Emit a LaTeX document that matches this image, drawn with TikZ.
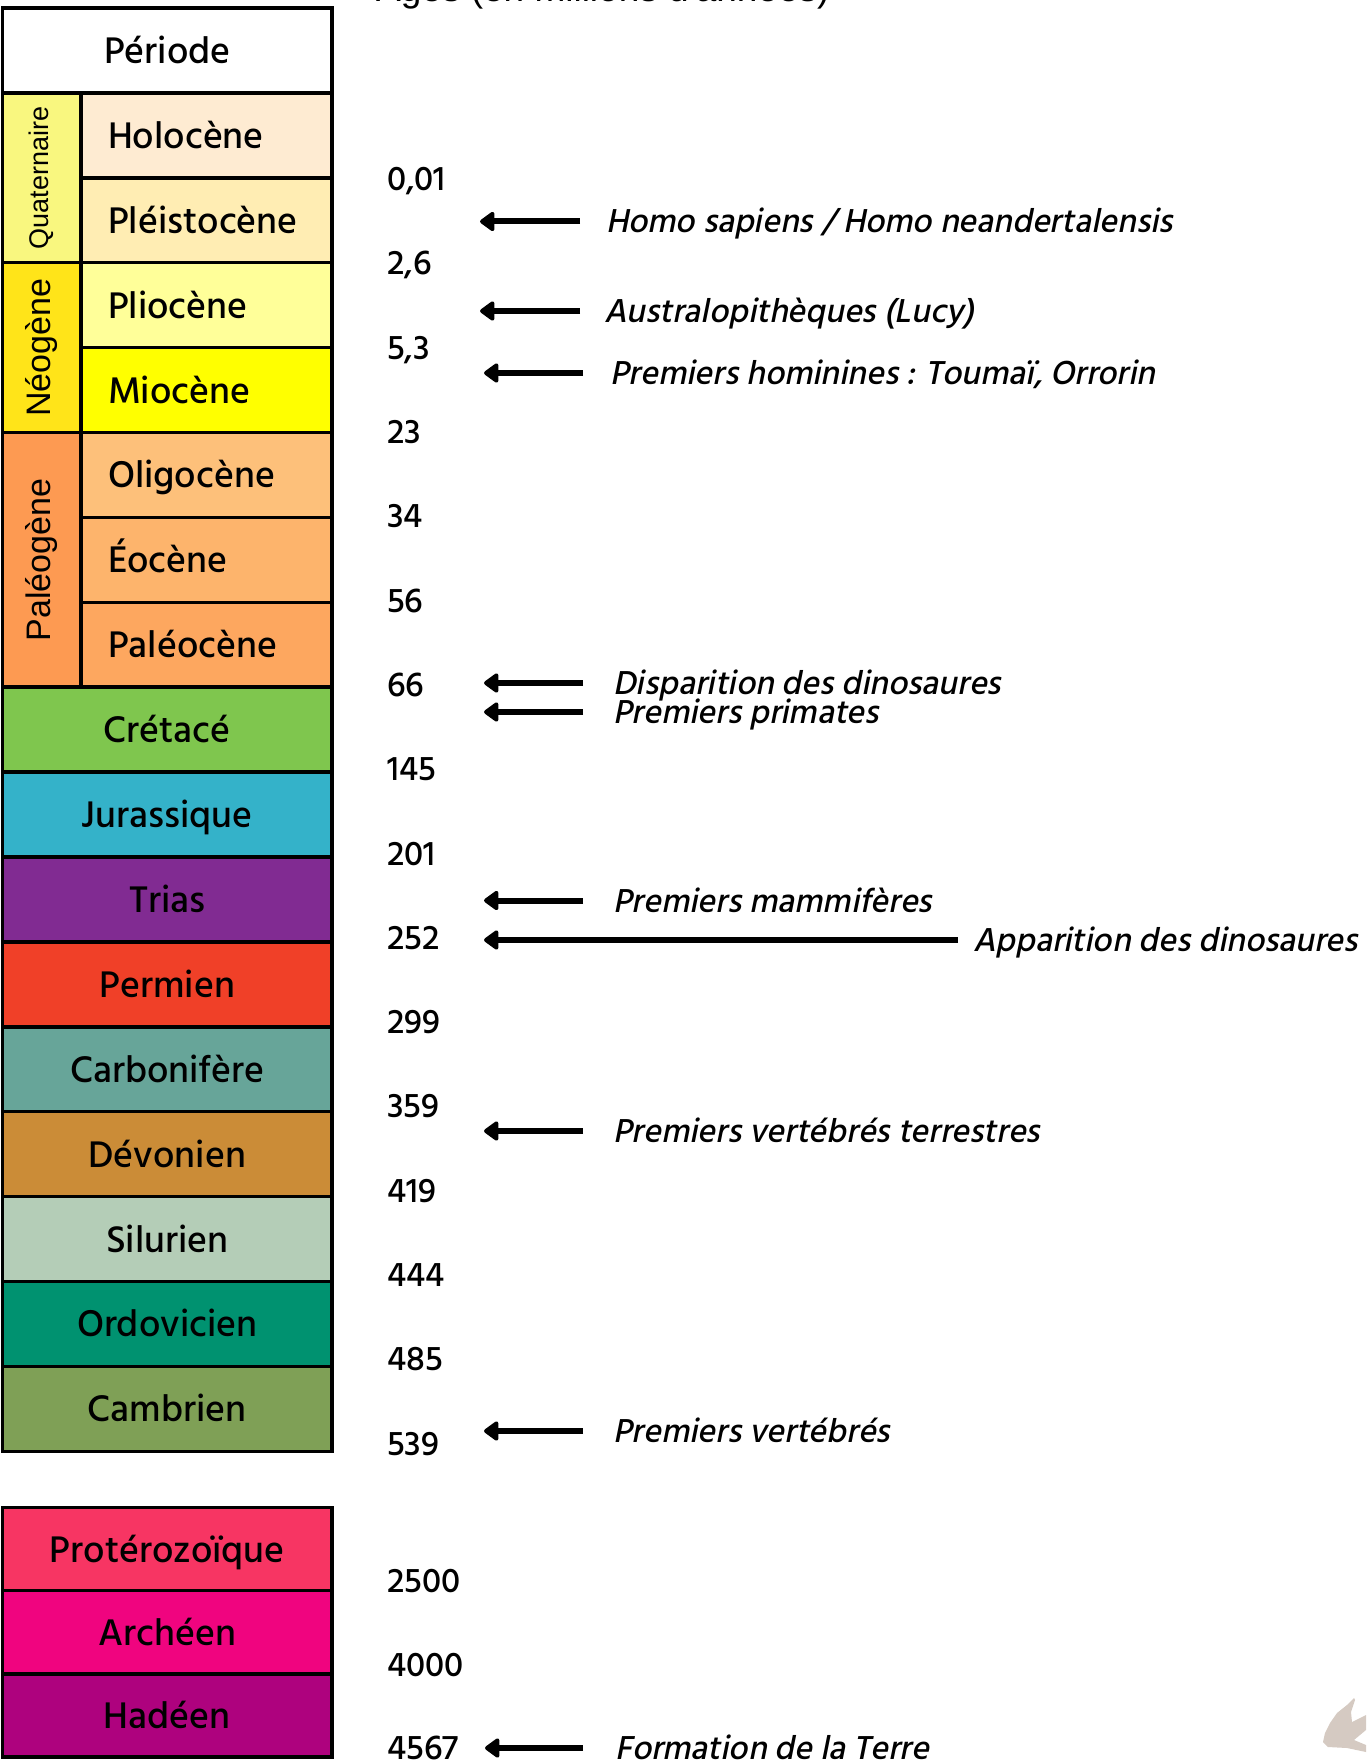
\documentclass[tikz,border=0pt]{standalone}
\usepackage{fontspec}
\setmainfont{Hind Siliguri}[UprightFont=* Medium,AutoFakeSlant=0.2]
\newfontfamily\arialfont{Liberation Sans}
\usetikzlibrary{arrows.meta}
\definecolor{cQuat}{RGB}{249,247,127}
\definecolor{cHolo}{RGB}{254,235,210}
\definecolor{cPleis}{RGB}{255,237,179}
\definecolor{cNeo}{RGB}{255,228,25}
\definecolor{cPlio}{RGB}{255,255,153}
\definecolor{cMio}{RGB}{255,255,0}
\definecolor{cPaleo}{RGB}{253,154,82}
\definecolor{cOligo}{RGB}{253,192,122}
\definecolor{cEo}{RGB}{253,180,108}
\definecolor{cPaleoc}{RGB}{253,167,95}
\definecolor{cCret}{RGB}{127,198,78}
\definecolor{cJur}{RGB}{52,178,201}
\definecolor{cTri}{RGB}{129,43,146}
\definecolor{cPerm}{RGB}{240,64,40}
\definecolor{cCarb}{RGB}{103,165,153}
\definecolor{cDev}{RGB}{203,140,55}
\definecolor{cSil}{RGB}{180,205,183}
\definecolor{cOrd}{RGB}{0,146,112}
\definecolor{cCam}{RGB}{127,160,86}
\definecolor{cProt}{RGB}{247,53,99}
\definecolor{cArch}{RGB}{240,4,127}
\definecolor{cHad}{RGB}{174,2,126}
\definecolor{cFoot}{RGB}{213,202,194}
\begin{document}
\begin{tikzpicture}[x=1pt,y=-1pt,
  box/.style={draw=black,line width=3.5pt,minimum height=84.9pt,inner sep=0pt,text height=26pt,text depth=0pt,font=\fontsize{38}{41}\selectfont},
  full/.style={box,minimum width=329.5pt},
  sub/.style={box,minimum width=251pt,text width=197pt,inner xsep=27pt,align=left},
  grp/.style={draw=black,line width=3.5pt,minimum width=78.5pt,inner sep=0pt,rotate=90},
  age/.style={anchor=west,inner sep=0pt,text height=22pt,text depth=0pt,font=\fontsize{35}{38}\selectfont},
  evt/.style={anchor=west,inner sep=0pt,text height=23pt,text depth=0pt,font=\fontsize{34}{37}\selectfont\itshape},
  evarrow/.style={line width=6pt,-{Triangle[width=22pt,length=16pt,round]}}]
\useasboundingbox (0,0) rectangle (1366,1760);

\node[anchor=base west,inner sep=0pt,font=\arialfont\fontsize{37}{40}\selectfont] (titre) at (376,1.5) {Âges (en millions d'années)};

\node[full,fill=white] (per) at (167.25,50.45) {Période};
\node[sub,fill=cHolo] (holo) at (206.5,135.35) {Holocène};
\node[sub,fill=cPleis] (pleis) at (206.5,220.25) {Pléistocène};
\node[sub,fill=cPlio] (plio) at (206.5,305.15) {Pliocène};
\node[sub,fill=cMio] (mio) at (206.5,390.05) {Miocène};
\node[sub,fill=cOligo] (oligo) at (206.5,474.95) {Oligocène};
\node[sub,fill=cEo] (eo) at (206.5,559.85) {Éocène};
\node[sub,fill=cPaleoc] (paleoc) at (206.5,644.75) {Paléocène};
\node[full,fill=cCret] (cret) at (167.25,729.65) {Crétacé};
\node[full,fill=cJur] (jur) at (167.25,814.55) {Jurassique};
\node[full,fill=cTri] (tri) at (167.25,899.45) {Trias};
\node[full,fill=cPerm] (perm) at (167.25,984.35) {Permien};
\node[full,fill=cCarb] (carb) at (167.25,1069.25) {Carbonifère};
\node[full,fill=cDev] (dev) at (167.25,1154.15) {Dévonien};
\node[full,fill=cSil] (sil) at (167.25,1239.05) {Silurien};
\node[full,fill=cOrd] (ord) at (167.25,1323.95) {Ordovicien};
\node[full,fill=cCam] (cam) at (167.25,1408.85) {Cambrien};

\node[grp,fill=cQuat,minimum height=78.5pt,minimum width=169.8pt,font=\arialfont\fontsize{27}{29}\selectfont] (quat) at (41.75,177.8) {Quaternaire};
\node[grp,fill=cNeo,minimum height=78.5pt,minimum width=169.8pt,font=\arialfont\fontsize{34}{36}\selectfont] (neo) at (41.75,347.6) {Néogène};
\node[grp,fill=cPaleo,minimum height=78.5pt,minimum width=254.7pt,font=\arialfont\fontsize{34}{36}\selectfont] (paleo) at (41.75,559.85) {Paléogène};

\node[full,minimum height=83.2pt,fill=cProt] (prot) at (167.25,1549.1) {Protérozoïque};
\node[full,minimum height=83.2pt,fill=cArch] (arch) at (167.25,1632.3) {Archéen};
\node[full,minimum height=83.2pt,fill=cHad] (had) at (167.25,1715.5) {Hadéen};

\node[age] (a1) at (387,179.6) {0,01};
\node[age] (a2) at (387,263.9) {2,6};
\node[age] (a3) at (387,348.2) {5,3};
\node[age] (a4) at (387,432.5) {23};
\node[age] (a5) at (387,516.8) {34};
\node[age] (a6) at (387,601.1) {56};
\node[age] (a7) at (387,685.4) {66};
\node[age] (a8) at (387,769.7) {145};
\node[age] (a9) at (387,854.0) {201};
\node[age] (a10) at (387,938.3) {252};
\node[age] (a11) at (387,1022.6) {299};
\node[age] (a12) at (387,1106.9) {359};
\node[age] (a13) at (387,1191.2) {419};
\node[age] (a14) at (387,1275.5) {444};
\node[age] (a15) at (387,1359.8) {485};
\node[age] (a16) at (387,1444.1) {539};
\node[age] (a17) at (387,1581.5) {2500};
\node[age] (a18) at (387,1665.6) {4000};
\node[age] (a19) at (387,1748.7) {4567};

\node[evt] (e1) at (606,221.5) {Homo sapiens / Homo neandertalensis};
\node[evt] (e2) at (604,311) {Australopithèques (Lucy)};
\node[evt] (e3) at (610,373) {Premiers hominines : Toumaï, Orrorin};
\node[evt] (e4) at (613,683) {Disparition des dinosaures};
\node[evt] (e5) at (613,712) {Premiers primates};
\node[evt] (e6) at (613,900.5) {Premiers mammifères};
\node[evt] (e7) at (973,940) {Apparition des dinosaures};
\node[evt] (e8) at (613,1131) {Premiers vertébrés terrestres};
\node[evt] (e9) at (613,1431) {Premiers vertébrés};
\node[evt] (e10) at (615,1748) {Formation de la Terre};

\coordinate (p1) at (480,221.5);
\coordinate (p2) at (480,311);
\coordinate (p3) at (484,373);
\coordinate (p4) at (484,683);
\coordinate (p5) at (484,712);
\coordinate (p6) at (484,900.5);
\coordinate (p7) at (484,940);
\coordinate (p8) at (484,1131);
\coordinate (p9) at (484,1431);
\coordinate (p10) at (485,1748);

\draw[evarrow] (e1.west) ++(-26,0) -- (p1);
\draw[evarrow] (e2.west) ++(-24,0) -- (p2);
\draw[evarrow] (e3.west) ++(-27,0) -- (p3);
\draw[evarrow] (e4.west) ++(-30,0) -- (p4);
\draw[evarrow] (e5.west) ++(-30,0) -- (p5);
\draw[evarrow] (e6.west) ++(-30,0) -- (p6);
\draw[evarrow] (e7.west) ++(-15,0) -- (p7);
\draw[evarrow] (e8.west) ++(-30,0) -- (p8);
\draw[evarrow] (e9.west) ++(-30,0) -- (p9);
\draw[evarrow] (e10.west) ++(-32,0) -- (p10);

\fill[cFoot] (1354,1698) -- (1347,1705) -- (1337,1713) -- (1330,1723) -- (1325,1733) -- (1323,1742) -- (1328,1747) -- (1347,1748) -- (1366,1752) -- (1366,1745) -- (1354,1740) -- (1366,1730) -- (1366,1715) -- (1352,1722) -- (1351,1712) -- (1355,1700) -- cycle;
\end{tikzpicture}
\end{document}
